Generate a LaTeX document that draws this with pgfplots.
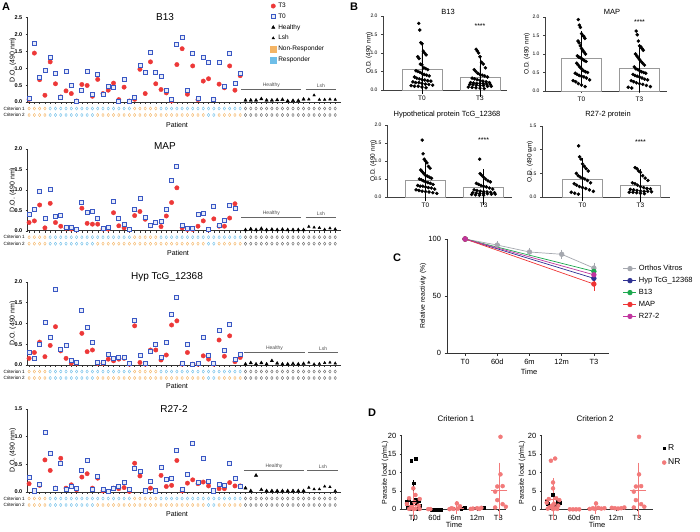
\documentclass[border=0pt]{standalone}
\usepackage{fontspec}
\setmainfont{Liberation Sans}
\usepackage{pgfplots}
\usepackage{pgfplotstable}
\pgfplotsset{compat=1.18}
\newcommand{\fs}[1]{\fontsize{#1}{#1}\selectfont}

\definecolor{redT}{RGB}{237,56,56}
\definecolor{blueT}{RGB}{58,88,196}
\definecolor{critO}{RGB}{244,180,100}
\definecolor{critB}{RGB}{110,190,232}
\definecolor{cGray}{RGB}{165,168,175}
\definecolor{cNavy}{RGB}{46,49,146}
\definecolor{cGreen}{RGB}{28,168,78}
\definecolor{cRed}{RGB}{238,52,52}
\definecolor{cMag}{RGB}{192,52,158}
\definecolor{cPink}{RGB}{242,122,122}

% ---------- Panel A data ----------
\pgfplotstableread{
x t0 t3
1 0.12 0.08
2 1.73 1.45
3 0.72 0.66
4 0.94 0.20
5 1.33 1.19
6 0.84 0.54
7 0.15 0.15
8 0.92 0.33
9 0.49 0.25
10 0.03 0.03
11 0.35 0.52
12 0.91 0.49
13 0.23 0.17
14 0.82 0.67
15 0.22 0.25
16 0.46 0.35
17 0.44 0.56
18 0.03 0.07
19 0.66 0.44
20 0.03 0.03
21 0.15 0.08
22 1.09 0.97
23 0.89 0.25
24 1.48 1.19
25 0.89 0.54
26 0.77 0.37
27 0.35 0.27
28 0.07 0.03
29 1.71 1.11
30 1.91 1.58
31 0.33 0.23
32 1.43 1.07
33 0.10 0.07
34 1.33 0.62
35 1.17 0.69
36 0.08 0.08
37 1.18 0.53
38 0.47 0.42
39 1.43 1.07
40 0.54 0.35
41 0.84 0.78
}\Abt
\pgfplotstableread{
x t0 t3
1 0.40 0.20
2 0.51 0.24
3 0.95 0.63
4 0.30 0.07
5 1.01 0.67
6 0.36 0.20
7 0.37 0.11
8 0.07 0.06
9 0.09 0.04
10 0.02 0.02
11 0.69 0.55
12 0.45 0.18
13 0.47 0.16
14 0.30 0.16
15 0.06 0.04
16 0.07 0.04
17 0.72 0.44
18 0.31 0.12
19 0.16 0.07
20 0.02 0.02
21 0.53 0.37
22 0.78 0.47
23 0.33 0.28
24 0.14 0.12
25 0.21 0.20
26 0.22 0.10
27 0.52 0.36
28 1.23 0.69
29 1.58 1.05
30 0.14 0.07
31 0.05 0.03
32 0.05 0.03
33 0.41 0.11
34 0.43 0.24
35 0.03 0.02
36 0.60 0.29
37 0.12 0.11
38 0.24 0.11
39 0.63 0.31
40 0.54 0.66
}\Amap
\pgfplotstableread{
x t0 t3
1 0.30 0.16
2 0.16 0.30
3 0.50 0.55
4 1.02 0.20
5 0.67 0.47
6 1.82 0.92
7 0.38 0.34
8 0.47 0.16
9 0.10 0.04
10 0.06 0.04
11 1.30 0.76
12 0.91 0.32
13 0.54 0.36
14 0.06 0.04
15 0.06 0.04
16 0.26 0.14
17 0.16 0.10
18 0.18 0.14
19 0.18 0.16
20 0.04 0.02
21 1.06 0.94
22 0.22 0.06
23 0.05 0.02
24 0.33 0.36
25 0.50 0.36
26 0.18 0.12
27 0.55 0.24
28 1.22 0.96
29 1.63 1.06
30 0.04 0.02
31 0.50 0.30
32 0.02 0.02
33 0.03 0.02
34 0.66 0.22
35 0.22 0.14
36 0.03 0.02
37 0.84 0.60
38 0.36 0.21
39 0.98 0.70
40 0.14 0.08
41 0.25 0.18
}\Ahyp
\pgfplotstableread{
x t0 t3
1 0.26 0.15
2 0.02 0.01
3 0.14 0.12
4 1.08 0.58
5 0.69 0.39
6 0.07 0.07
7 0.51 0.61
8 0.04 0.07
9 0.10 0.13
10 0.07 0.04
11 0.39 0.27
12 0.57 0.33
13 0.04 0.07
14 0.29 0.25
15 0.04 0.02
16 0.01 0.01
17 0.07 0.07
18 0.11 0.06
19 0.17 0.08
20 0.04 0.01
21 0.42 0.52
22 0.37 0.29
23 0.02 0.02
24 0.20 0.07
25 0.02 0.01
26 0.44 0.30
27 0.22 0.10
28 0.25 0.12
29 0.75 0.57
30 0.04 0.02
31 0.32 0.16
32 0.87 0.22
33 0.18 0.15
34 0.61 0.18
35 0.20 0.11
36 0.02 0.02
37 0.13 0.06
38 0.12 0.06
39 0.52 0.17
40 0.24 0.11
41 0.10 0.11
}\Ar
% healthy (42-53) and Lsh (54-59)
\pgfplotstableread{
x b m h r
42 0.05 0.02 0.02 0.07
43 0.05 0.04 0.05 0.02
44 0.05 0.02 0.02 0.30
45 0.09 0.05 0.05 0.04
46 0.05 0.02 0.02 0.02
47 0.05 0.03 0.10 0.02
48 0.06 0.02 0.04 0.02
49 0.07 0.03 0.02 0.02
50 0.03 0.02 0.02 0.02
51 0.04 0.02 0.03 0.02
52 0.04 0.02 0.02 0.02
53 0.08 0.02 0.03 0.02
}\Hea
\pgfplotstableread{
x b m h r
54 0.08 0.10 0.06 0.08
55 0.20 0.08 0.02 0.05
56 0.07 0.07 0.03 0.05
57 0.07 0.03 0.05 0.10
58 0.08 0.06 0.06 0.09
59 0.07 0.04 0.04 0.02
}\Lsh
\pgfplotstableread{
x c1 c2
1 o o
2 o o
3 o o
4 o o
5 b b
6 b b
7 b b
8 b b
9 b b
10 b b
11 b b
12 b b
13 b b
14 b o
15 b o
16 b o
17 b o
18 b o
19 b o
20 b o
21 o o
22 o o
23 o o
24 o o
25 o o
26 b o
27 b o
28 b o
29 b o
30 b o
31 b o
32 b o
33 b o
34 b o
35 b b
36 b b
37 b o
38 b o
39 b o
40 b o
41 b o
42 k k
43 k k
44 k k
45 k k
46 k k
47 k k
48 k k
49 k k
50 k k
51 k k
52 k k
53 k k
54 k k
55 k k
56 k k
57 k k
58 k k
59 k k
}\crit

% ---------- Panel B data ----------
\pgfplotstableread{
y
1.80
1.62
1.28
1.25
1.05
1.00
0.95
0.90
0.85
0.70
0.68
0.60
0.58
0.55
0.52
0.50
0.48
0.45
0.42
0.40
0.38
0.35
0.32
0.30
0.28
0.27
0.25
0.24
0.22
0.20
0.20
0.18
0.16
0.15
0.13
0.12
0.10
0.10
0.08
0.06
}\BbZ
\pgfplotstableread{
y
1.10
1.05
1.00
0.90
0.75
0.70
0.60
0.55
0.50
0.45
0.42
0.40
0.38
0.35
0.32
0.30
0.28
0.26
0.24
0.22
0.20
0.20
0.19
0.18
0.18
0.17
0.16
0.15
0.15
0.14
0.13
0.12
0.12
0.10
0.10
0.08
0.07
0.06
0.05
0.04
}\BbT
\pgfplotstableread{
y
1.93
1.78
1.72
1.55
1.50
1.48
1.42
1.35
1.30
1.22
1.15
1.10
1.05
1.00
0.95
0.92
0.90
0.88
0.85
0.82
0.80
0.75
0.70
0.65
0.60
0.55
0.52
0.50
0.48
0.45
0.42
0.40
0.38
0.35
0.30
0.28
0.25
0.20
0.16
0.12
}\BmZ
\pgfplotstableread{
y
1.62
1.52
1.35
1.22
1.20
1.15
1.10
1.00
0.95
0.90
0.85
0.80
0.75
0.70
0.65
0.60
0.58
0.55
0.52
0.50
0.48
0.45
0.42
0.40
0.38
0.35
0.32
0.30
0.28
0.25
0.22
0.20
0.18
0.15
0.12
0.10
0.08
}\BmT
\pgfplotstableread{
y
1.58
1.20
1.05
1.00
0.95
0.85
0.80
0.75
0.70
0.65
0.60
0.58
0.55
0.52
0.50
0.48
0.45
0.42
0.40
0.38
0.35
0.32
0.30
0.30
0.28
0.26
0.25
0.22
0.20
0.18
0.16
0.15
0.14
0.12
0.10
}\BhZ
\pgfplotstableread{
y
1.05
0.65
0.60
0.55
0.50
0.45
0.42
0.38
0.35
0.32
0.30
0.28
0.25
0.22
0.20
0.18
0.16
0.15
0.14
0.13
0.12
0.12
0.11
0.10
0.10
0.09
0.08
0.08
0.07
0.06
0.05
0.05
}\BhT
\pgfplotstableread{
y
1.08
0.85
0.80
0.70
0.65
0.60
0.55
0.50
0.45
0.42
0.40
0.38
0.35
0.30
0.28
0.25
0.22
0.20
0.18
0.15
0.12
0.10
0.08
0.06
}\BrZ
\pgfplotstableread{
y
0.62
0.60
0.55
0.52
0.45
0.40
0.35
0.30
0.28
0.25
0.22
0.20
0.18
0.17
0.16
0.15
0.14
0.13
0.12
0.12
0.11
0.10
0.10
0.09
0.08
0.07
}\BrT

\pgfplotsset{
  pA/.style={anchor=south west, scale only axis, width=313pt, xmin=0.7, xmax=60, ymin=0, clip=false,
    axis x line*=bottom, axis y line*=left, xtick={1,...,59}, xticklabels={},
    tick align=outside, major tick length=1.8pt,
    x axis line style={-, line width=0.6pt, black!80}, y axis line style={-, line width=0.6pt, black!80},
    every tick/.style={line width=0.4pt, black!80},
    yticklabel style={font=\fs{5.5}\bfseries, /pgf/number format/.cd, fixed, fixed zerofill, precision=1, assume math mode=true},
    ylabel style={font=\fs{7}, at={(axis description cs:-0.047,0.5)}, anchor=center}},
  crit/.style={scatter, only marks, scatter src=explicit symbolic,
    scatter/classes={o={mark=diamond, draw=critO}, b={mark=diamond, draw=critB}, k={mark=diamond, draw=black!60}},
    mark size=1.6pt, line width=0.4pt, forget plot},
  t3/.style={only marks, mark=*, mark size=2.2pt, color=redT},
  t0/.style={only marks, mark=square*, mark size=2.0pt, draw=blueT, fill=blueT!12, line width=0.8pt},
  hea/.style={only marks, mark=triangle*, mark size=1.9pt, black},
  lsh/.style={only marks, mark=triangle*, mark size=1.5pt, black},
  pB/.style={anchor=south west, scale only axis, clip=false, ymin=0, xtick={1,2}, xticklabels={T0,T3},
    axis x line*=bottom, axis y line*=left, tick align=outside, major tick length=2pt,
    x axis line style={-, line width=0.6pt, black!75}, y axis line style={-, line width=0.6pt, black!75},
    every tick/.style={line width=0.5pt, black!75},
    xticklabel style={font=\fs{6.5}},
    yticklabel style={font=\fs{5}, /pgf/number format/.cd, fixed, fixed zerofill, precision=1, assume math mode=true},
    ylabel style={font=\fs{6.5}, anchor=center}},
  bbar/.style={ybar, bar width=40pt, fill=white, draw=black!40, line width=0.7pt,
    error bars/.cd, y dir=both, y explicit, error bar style={black, line width=0.6pt},
    error mark options={black, line width=0.6pt, mark size=9pt}},
  dots/.style={only marks, mark=*, mark size=1.55pt, black},
  pD/.style={anchor=south west, scale only axis, clip=false, ymin=0, ymax=20, height=73.6pt,
    ytick={0,5,10,15,20}, xtick={0,1,2,3,4}, xticklabels={T0,60d,6m,12m,T3},
    axis x line*=bottom, axis y line*=left, tick align=outside, major tick length=2pt,
    x axis line style={-, line width=0.7pt, black!80}, y axis line style={-, line width=0.7pt, black!80},
    every tick/.style={line width=0.6pt, black!80},
    xticklabel style={font=\fs{7.5}}, yticklabel style={font=\fs{7.5}, /pgf/number format/assume math mode=true},
    ylabel style={font=\fs{7}, anchor=center}},
  dR/.style={only marks, mark=square*, mark size=1.4pt, black},
  dNR/.style={only marks, mark=*, mark size=2pt, cPink},
  dErr/.style={only marks, mark=-, mark size=8pt, line width=0.6pt,
    error bars/.cd, y dir=both, y explicit, error bar style={line width=0.6pt}, error mark options={line width=0.6pt, mark size=4pt}},
}
\newcommand{\swA}{(mod(\coordindex,7)-3)*(0.018+0.06*exp(-2.5*\thisrow{y}))}

\begin{document}
\begin{tikzpicture}[x=1pt,y=1pt]
\useasboundingbox (0pt,0pt) rectangle (700pt,531pt);

% ================= PANEL A =================
% --- B13 ---
\begin{axis}[pA, at={(27.5pt,429pt)}, height=84.3pt, ymax=2.5, ytick={0,0.5,1,1.5,2,2.5}, ylabel={D.O. (490 nm)},
  legend style={at={(0.775,1.2)}, anchor=north west, draw=none, fill=none, font=\fs{6.5}, inner sep=0pt, row sep=0.6pt},
  legend cell align=left]
\addplot[t3] table[x=x,y=t3]{\Abt}; \addlegendentry{T3}
\addplot[t0] table[x=x,y=t0]{\Abt}; \addlegendentry{T0}
\addplot[hea] table[x=x,y=b]{\Hea}; \addlegendentry{Healthy}
\addplot[lsh] table[x=x,y=b]{\Lsh}; \addlegendentry{Lsh}
\addlegendimage{only marks, mark=square*, mark size=3pt, draw=critO, fill=critO}\addlegendentry{Non-Responder}
\addlegendimage{only marks, mark=square*, mark size=3pt, draw=critB, fill=critB}\addlegendentry{Responder}
\addplot[crit] table[x=x, y expr=-0.193, meta=c1]{\crit};
\addplot[crit] table[x=x, y expr=-0.386, meta=c2]{\crit};
\draw[black!60, line width=0.6pt] (axis cs:41.2,0.37) -- (axis cs:52.6,0.37) node[midway, above, font=\fs{5}, black!70, inner sep=1.2pt] {Healthy};
\draw[black!60, line width=0.6pt] (axis cs:53.4,0.37) -- (axis cs:59.2,0.37) node[midway, above, font=\fs{5}, black!70, inner sep=1.2pt] {Lsh};
\node[anchor=west, font=\fs{4.6}] at (axis cs:-4.5,-0.193) {Criterion 1};
\node[anchor=west, font=\fs{4.6}] at (axis cs:-4.5,-0.386) {Criterion 2};
\end{axis}

% --- MAP ---
\begin{axis}[pA, at={(27.5pt,300.3pt)}, height=81.7pt, ymax=2, ytick={0,0.5,1,1.5,2}, ylabel={D.O. (490 nm)}]
\addplot[t3] table[x=x,y=t3]{\Amap};
\addplot[t0] table[x=x,y=t0]{\Amap};
\addplot[hea] table[x=x,y=m]{\Hea};
\addplot[lsh] table[x=x,y=m]{\Lsh};
\addplot[crit] table[x=x, y expr=-0.159, meta=c1]{\crit};
\addplot[crit] table[x=x, y expr=-0.318, meta=c2]{\crit};
\draw[black!60, line width=0.6pt] (axis cs:41.2,0.33) -- (axis cs:52.6,0.33) node[midway, above, font=\fs{5}, black!70, inner sep=1.2pt] {Healthy};
\draw[black!60, line width=0.6pt] (axis cs:53.4,0.33) -- (axis cs:59.2,0.33) node[midway, above, font=\fs{5}, black!70, inner sep=1.2pt] {Lsh};
\node[anchor=west, font=\fs{4.6}] at (axis cs:-4.5,-0.159) {Criterion 1};
\node[anchor=west, font=\fs{4.6}] at (axis cs:-4.5,-0.318) {Criterion 2};
\end{axis}

% --- Hyp ---
\begin{axis}[pA, at={(27.5pt,166pt)}, height=83.3pt, ymax=2, ytick={0,0.5,1,1.5,2}, ylabel={D.O. (490 nm)}]
\addplot[t3] table[x=x,y=t3]{\Ahyp};
\addplot[t0] table[x=x,y=t0]{\Ahyp};
\addplot[hea] table[x=x,y=h]{\Hea};
\addplot[lsh] table[x=x,y=h]{\Lsh};
\addplot[crit] table[x=x, y expr=-0.156, meta=c1]{\crit};
\addplot[crit] table[x=x, y expr=-0.312, meta=c2]{\crit};
\draw[black!60, line width=0.6pt] (axis cs:41.8,0.30) -- (axis cs:53.2,0.30) node[midway, above, font=\fs{5}, black!70, inner sep=1.2pt] {Healthy};
\draw[black!60, line width=0.6pt] (axis cs:53.8,0.30) -- (axis cs:59.6,0.30) node[midway, above, font=\fs{5}, black!70, inner sep=1.2pt] {Lsh};
\node[anchor=west, font=\fs{4.6}] at (axis cs:-4.5,-0.156) {Criterion 1};
\node[anchor=west, font=\fs{4.6}] at (axis cs:-4.5,-0.312) {Criterion 2};
\end{axis}

% --- R27-2 ---
\begin{axis}[pA, at={(27.5pt,39pt)}, height=83pt, ymax=1.5, ytick={0,0.5,1,1.5}, ylabel={D.O. (490 nm)}]
\addplot[t3] table[x=x,y=t3]{\Ar};
\addplot[t0] table[x=x,y=t0]{\Ar};
\addplot[hea] table[x=x,y=r]{\Hea};
\addplot[lsh] table[x=x,y=r]{\Lsh};
\addplot[crit] table[x=x, y expr=-0.117, meta=c1]{\crit};
\addplot[crit] table[x=x, y expr=-0.235, meta=c2]{\crit};
\draw[black!60, line width=0.6pt] (axis cs:41.7,0.39) -- (axis cs:53.1,0.39) node[midway, above, font=\fs{5}, black!70, inner sep=1.2pt] {Healthy};
\draw[black!60, line width=0.6pt] (axis cs:53.7,0.39) -- (axis cs:59.6,0.39) node[midway, above, font=\fs{5}, black!70, inner sep=1.2pt] {Lsh};
\node[anchor=west, font=\fs{4.6}] at (axis cs:-4.5,-0.117) {Criterion 1};
\node[anchor=west, font=\fs{4.6}] at (axis cs:-4.5,-0.235) {Criterion 2};
\end{axis}

\node[font=\fs{10}] at (165pt,514.3pt) {B13};
\node[font=\fs{10}] at (165pt,385.3pt) {MAP};
\node[font=\fs{10}] at (167pt,254.3pt) {Hyp TcG\_12368};
\node[font=\fs{10}] at (174pt,121.7pt) {R27-2};
\node[font=\fs{7}] at (177pt,406pt) {Patient};
\node[font=\fs{7}] at (178pt,278pt) {Patient};
\node[font=\fs{7}] at (177pt,145pt) {Patient};
\node[font=\fs{7}] at (177pt,17pt) {Patient};

% ================= PANEL B =================
\begin{axis}[pB, at={(383pt,441pt)}, width=124pt, height=74pt, xmin=0.328, xmax=2.466, ymax=2, ytick={0,0.5,1,1.5,2},
  ylabel={O.D. (490 nm)}, ylabel style={at={(axis description cs:-0.113,0.5)}}]
\addplot[bbar] coordinates {(1,0.57) +- (0,0.44) (2,0.35) +- (0,0.30)};
\addplot[dots] table[x expr={1+\swA}, y=y]{\BbZ};
\addplot[dots] table[x expr={2+\swA}, y=y]{\BbT};
\node[font=\fs{7}] at (axis cs:2,1.73) {****};
\end{axis}
\begin{axis}[pB, at={(545pt,440pt)}, width=122pt, height=74pt, xmin=0.371, xmax=2.474, ymax=2, ytick={0,0.5,1,1.5,2},
  ylabel={O.D. (490 nm)}, ylabel style={at={(axis description cs:-0.148,0.5)}}]
\addplot[bbar] coordinates {(1,0.88) +- (0,0.49) (2,0.62) +- (0,0.40)};
\addplot[dots] table[x expr={1+\swA}, y=y]{\BmZ};
\addplot[dots] table[x expr={2+\swA}, y=y]{\BmT};
\node[font=\fs{7}] at (axis cs:2,1.86) {****};
\end{axis}
\begin{axis}[pB, at={(387pt,334pt)}, width=125pt, height=72pt, xmin=0.336, xmax=2.49, ymax=2, ytick={0,0.5,1,1.5,2},
  ylabel={O.D. (490 nm)}, ylabel style={at={(axis description cs:-0.11,0.5)}}]
\addplot[bbar] coordinates {(1,0.47) +- (0,0.33) (2,0.28) +- (0,0.24)};
\addplot[dots] table[x expr={1+\swA}, y=y]{\BhZ};
\addplot[dots] table[x expr={2+\swA}, y=y]{\BhT};
\node[font=\fs{7}] at (axis cs:2,1.58) {****};
\end{axis}
\begin{axis}[pB, at={(542pt,334pt)}, width=128pt, height=71pt, xmin=0.302, xmax=2.509, ymax=1.5, ytick={0,0.5,1,1.5},
  ylabel={O.D. (490 nm)}, ylabel style={at={(axis description cs:-0.094,0.5)}}]
\addplot[bbar] coordinates {(1,0.375) +- (0,0.26) (2,0.24) +- (0,0.165)};
\addplot[dots] table[x expr={1+\swA}, y=y]{\BrZ};
\addplot[dots] table[x expr={2+\swA}, y=y]{\BrT};
\node[font=\fs{7}] at (axis cs:2,1.16) {****};
\end{axis}
\node[font=\fs{7.5}] at (448pt,519pt) {B13};
\node[font=\fs{7.5}] at (612pt,519pt) {MAP};
\node[font=\fs{7.5}] at (447pt,416pt) {Hypothetical protein TcG\_12368};
\node[font=\fs{7.5}] at (608pt,416pt) {R27-2 protein};

% ================= PANEL C =================
\begin{axis}[anchor=south west, at={(447pt,178pt)}, scale only axis, width=162pt, height=114pt, clip=false,
  xmin=-0.5625, xmax=4.47, ymin=0, ymax=100, xtick={0,1,2,3,4}, xticklabels={T0,60d,6m,12m,T3}, ytick={0,50,100},
  axis x line*=bottom, axis y line*=left, tick align=outside, major tick length=2.5pt,
  x axis line style={-, line width=0.7pt, black!80}, y axis line style={-, line width=0.7pt, black!80},
  every tick/.style={line width=0.6pt, black!80},
  xticklabel style={font=\fs{7.5}}, yticklabel style={font=\fs{7.5}, /pgf/number format/assume math mode=true},
  ylabel={Relative reactivity (\%)}, ylabel style={font=\fs{6.8}, at={(axis description cs:-0.148,0.5)}, anchor=center},
  legend style={at={(1.086,0.79)}, anchor=north west, draw=none, fill=none, font=\fs{7.5}, inner sep=0pt, row sep=1.2pt},
  legend cell align=left,
  legend image code/.code={\draw[mark repeat=2,mark phase=2] plot coordinates {(0pt,0pt)(6.5pt,0pt)(13pt,0pt)};},
  error bars/error bar style={line width=0.6pt}, error bars/error mark options={line width=0.6pt, mark size=2.5pt}]
\addplot[cGray, line width=0.7pt, mark=*, mark size=2.3pt, error bars/.cd, y dir=both, y explicit]
  coordinates {(0,100) (1,94.7) +- (0,1.2) (2,88.6) +- (0,1.5) (3,86.6) +- (0,1.8) (4,74.5) +- (0,2.5)};
\addlegendentry{Orthos Vitros}
\addplot[cNavy, line width=0.7pt, mark=*, mark size=2.3pt, error bars/.cd, y dir=both, y explicit]
  coordinates {(0,100) (4,65.5) +- (0,2)};
\addlegendentry{Hyp TcG\_12368}
\addplot[cGreen, line width=0.7pt, mark=*, mark size=2.3pt, error bars/.cd, y dir=both, y explicit]
  coordinates {(0,100) (4,71.6) +- (0,2)};
\addlegendentry{B13}
\addplot[cRed, line width=0.7pt, mark=*, mark size=2.3pt, error bars/.cd, y dir=both, y explicit]
  coordinates {(0,100) (4,60.5) +- (0,3.5)};
\addlegendentry{MAP}
\addplot[cMag, line width=0.7pt, mark=*, mark size=2.3pt, error bars/.cd, y dir=both, y explicit]
  coordinates {(0,100) (4,68.6) +- (0,2)};
\addlegendentry{R27-2}
\end{axis}
\node[font=\fs{7.5}] at (529pt,159pt) {Time};

% ================= PANEL D =================
\begin{axis}[pD, at={(401.7pt,21.7pt)}, width=104.3pt, xmin=-0.547, xmax=4.36,
  ylabel={Parasite load (p/mL)}, ylabel style={at={(axis description cs:-0.16,0.5)}}]
\addplot[dR] coordinates {(-0.1,13.2)(0.1,13.8)(0.0,7.1)(-0.2,2.5)(0.1,2.6)(0.25,2.2)(-0.3,2.0)(0.15,1.8)(-0.1,1.5)(0.3,1.0)(-0.25,0.6)(0.05,0.3)(0.2,0.2)(-0.15,0.1)
  (0.85,0)(1.0,0)(1.15,0)(1.3,0)(2.25,0.2)(2.4,0.4)(1.85,0.3)(2.9,0.3)(3.3,0.5)};
\addplot[dNR] coordinates {(0.0,5.7)(0.1,3.9)(-0.2,3.0)(0.3,2.8)(0.05,2.0)(-0.3,1.5)(0.25,1.0)(-0.1,0.5)(0.1,0.2)(-0.2,0.1)(0.3,0.1)(0.0,0.05)
  (0.7,0.05)(0.8,0.05)(2.05,1.6)(1.8,0.3)(2.2,0.8)(1.9,0.1)(2.1,0.2)(1.7,0.05)
  (3.0,0.3)(3.1,0.1)(2.8,0.2)(3.2,0.4)(2.7,0.1)
  (4.1,19.7)(4.1,9.5)(4.2,6.3)(3.95,6.2)(3.85,4.8)(3.95,2.5)(4.2,1.4)(3.85,0.5)(4.35,0.7)};
\addplot[black, dErr] coordinates {(0,2.3) +- (0,4.5)};
\addplot[cPink, dErr] coordinates {(0,1.2) +- (0,2.7) (2,0.4) +- (0,0.7) (4.05,5.2) +- (0,6.4)};
\end{axis}
\begin{axis}[pD, at={(541.7pt,21.7pt)}, width=111.6pt, xmin=-0.54, xmax=4.78,
  ylabel={Parasite load (p/mL)}, ylabel style={at={(axis description cs:-0.177,0.5)}},
  legend style={at={(1.078,0.91)}, anchor=north west, draw=none, fill=none, font=\fs{8.5}, inner sep=0pt, row sep=3pt},
  legend cell align=left, legend image code/.code={\draw plot coordinates {(2pt,0pt)};}]
\addplot[dR] coordinates {(0.0,3.9)(-0.25,1.6)(0.2,2.1)(0.3,1.9)(-0.3,2.1)(0.1,1.2)};
\addlegendentry{R}
\addplot[dNR] coordinates {(-0.1,13.2)(0.1,13.8)(0.0,7.3)(0.0,5.7)(0.15,3.0)(-0.2,2.8)(0.3,2.5)(-0.3,1.8)(0.05,1.5)(0.25,1.0)(-0.15,0.6)(0.1,0.3)(-0.25,0.2)(0.2,0.1)(0.0,0.05)(-0.05,1.0)
  (0.8,0)(0.95,0)(1.1,0)(1.25,0)
  (1.75,0.1)(1.9,0.3)(2.05,1.6)(2.15,0.4)(2.3,0.2)(2.45,0.3)(2.0,0.1)
  (2.8,0.4)(2.95,0.3)(3.1,0.2)(3.25,0.3)(3.4,0.5)
  (4.1,19.7)(4.1,9.5)(4.2,6.3)(3.95,6.2)(3.85,4.8)(3.95,2.5)(4.2,1.4)(3.85,0.5)(4.35,0.7)};
\addlegendentry{NR}
\addplot[cPink, forget plot, dErr] coordinates {(0,2.8) +- (0,4.5) (2,0.4) +- (0,0.6) (4.05,5.2) +- (0,6.4)};
\end{axis}
\node[font=\fs{8}] at (456pt,112pt) {Criterion 1};
\node[font=\fs{8}] at (595pt,112pt) {Criterion 2};
\node[font=\fs{7.5}] at (454pt,6pt) {Time};
\node[font=\fs{7.5}] at (597pt,6pt) {Time};

% panel letters
\node[font=\fs{11}\bfseries] at (6pt,524pt) {A};
\node[font=\fs{11}\bfseries] at (354pt,524pt) {B};
\node[font=\fs{11}\bfseries] at (397pt,273pt) {C};
\node[font=\fs{11}\bfseries] at (372pt,118pt) {D};
\end{tikzpicture}
\end{document}
